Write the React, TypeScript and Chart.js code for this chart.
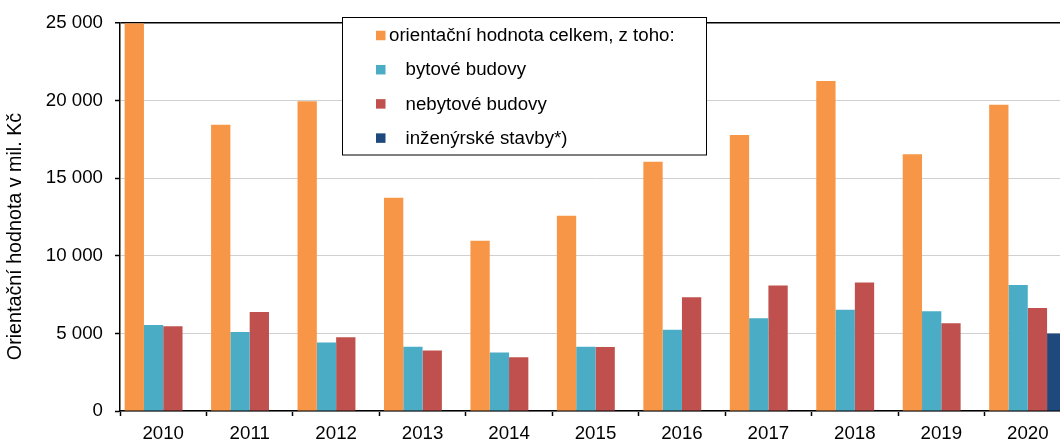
import React, { useEffect, useRef } from "react";
import { Chart, registerables } from "chart.js";

Chart.register(...registerables);

const years = ["2010", "2011", "2012", "2013", "2014", "2015", "2016", "2017", "2018", "2019", "2020"];
const totalValues = [25000, 18450, 19970, 13750, 10980, 12580, 16070, 17800, 21270, 16560, 19750];
const residentialValues = [5540, 5090, 4410, 4150, 3770, 4150, 5240, 5980, 6530, 6430, 8130];
const nonResidentialValues = [5470, 6390, 4750, 3900, 3470, 4130, 7340, 8090, 8280, 5660, 6640];
const civilValues = [null, null, null, null, null, null, null, null, null, null, 5000];

const seriesLabels = [
  "orientační hodnota celkem, z toho:",
  "bytové budovy",
  "nebytové budovy",
  "inženýrské stavby*)",
];
const seriesColors = ["#F79646", "#4BACC6", "#C0504D", "#1F497D"];
const yTitle = "Orientační hodnota v mil. Kč";
const yMax = 25000;
const yStep = 5000;

const FONT = "'Liberation Sans', Arial, sans-serif";

const fmt = (v: number) => String(v).replace(/\B(?=(\d{3})+(?!\d))/g, " ");

const overlayPlugin = {
  id: "overlay",
  afterDraw(chart: any) {
    const ctx = chart.ctx as CanvasRenderingContext2D;
    ctx.save();
    // y axis title
    ctx.translate(16, 236.5);
    ctx.rotate(-Math.PI / 2);
    ctx.font = `19.7px ${FONT}`;
    ctx.fillStyle = "#000";
    ctx.textAlign = "center";
    ctx.textBaseline = "middle";
    ctx.fillText(yTitle, 0, 0);
    ctx.restore();

    // legend
    ctx.save();
    const bx = 342.5, by = 17.5, bw = 364, bh = 137.5;
    ctx.fillStyle = "#fff";
    ctx.fillRect(bx, by, bw, bh);
    ctx.strokeStyle = "#000";
    ctx.lineWidth = 1;
    ctx.strokeRect(bx, by, bw, bh);
    ctx.font = `18.7px ${FONT}`;
    ctx.textBaseline = "middle";
    ctx.textAlign = "left";
    seriesLabels.forEach((label, i) => {
      const cy = 35.5 + i * 34.2;
      ctx.fillStyle = seriesColors[i];
      ctx.fillRect(376, cy - 4.75, 9.5, 9.5);
      ctx.fillStyle = "#000";
      ctx.fillText(label, i === 0 ? 389 : 405.5, cy + 0.5);
    });
    ctx.restore();
  },
};

export default function App() {
  const ref = useRef<HTMLCanvasElement | null>(null);

  useEffect(() => {
    if (!ref.current) return;
    const datasets = [totalValues, residentialValues, nonResidentialValues, civilValues].map((d, i) => ({
      label: seriesLabels[i],
      data: d,
      backgroundColor: seriesColors[i],
      borderWidth: 0,
      categoryPercentage: 0.893,
      barPercentage: 1,
    }));
    const chart = new Chart(ref.current, {
      type: "bar",
      data: { labels: years, datasets: datasets as any },
      options: {
        responsive: false,
        animation: false,
        devicePixelRatio: 1,
        layout: { padding: { top: 20, right: 0, left: 0, bottom: 0 } },
        plugins: {
          legend: { display: false },
          title: { display: false },
          tooltip: { enabled: false },
        },
        scales: {
          x: {
            offset: true,
            grid: {
              display: true,
              offset: true,
              drawOnChartArea: false,
              drawTicks: true,
              tickLength: 5,
              tickColor: "#000",
              tickWidth: 1.5,
            },
            border: { display: true, color: "#000", width: 1.5 },
            ticks: {
              color: "#000",
              font: { family: FONT, size: 18.7 },
              padding: 7,
              maxRotation: 0,
              autoSkip: false,
            },
            afterFit: (scale: any) => {
              scale.height = 30;
            },
          },
          y: {
            min: 0,
            max: yMax,
            grid: {
              color: (c: any) => (c.tick && c.tick.value === yMax ? "#000" : "#d0d0d0"),
              lineWidth: (c: any) => (c.tick && c.tick.value === yMax ? 1.5 : 1),
              tickLength: 5,
              tickColor: "#000",
              tickWidth: 1.5,
            },
            border: { display: true, color: "#000", width: 1.5 },
            ticks: {
              stepSize: yStep,
              color: "#000",
              font: { family: FONT, size: 18.7 },
              padding: 12,
              callback: (v: any) => fmt(Number(v)),
            },
            afterFit: (scale: any) => {
              scale.width = 120;
            },
          },
        },
      },
      plugins: [overlayPlugin],
    });
    return () => chart.destroy();
  }, []);

  return (
    <div
      style={{
        position: "fixed",
        left: 0,
        top: 0,
        width: 1060,
        height: 441,
        overflow: "hidden",
        background: "#fff",
      }}
    >
      <canvas ref={ref} width={1071} height={441} style={{ display: "block", width: 1071, height: 441 }} />
    </div>
  );
}
